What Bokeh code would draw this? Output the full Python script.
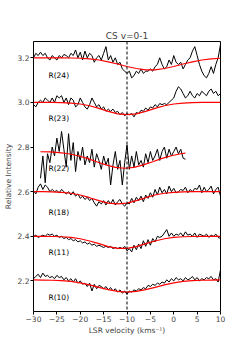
from bokeh.plotting import figure
from bokeh.models import Span, FixedTicker, ColumnDataSource
from bokeh.core.properties import value
from bokeh.embed import file_html
from bokeh.resources import INLINE

# ---- data ----
velocity = [-30 + 0.5 * i for i in range(81)]

r24 = [3.20, 3.22, 3.21, 3.225, 3.21, 3.22, 3.20, 3.19, 3.21, 3.20,
       3.19, 3.21, 3.20, 3.215, 3.21, 3.20, 3.22, 3.21, 3.235, 3.20,
       3.225, 3.19, 3.23, 3.20, 3.22, 3.21, 3.18, 3.20, 3.21, 3.19,
       3.22, 3.25, 3.19, 3.21, 3.18, 3.20, 3.17, 3.18, 3.15, 3.14,
       3.13, 3.14, 3.11, 3.12, 3.14, 3.13, 3.15, 3.13, 3.14, 3.14,
       3.15, 3.14, 3.16, 3.17, 3.20, 3.17, 3.15, 3.16, 3.19, 3.17,
       3.21, 3.18, 3.17, 3.18, 3.15, 3.17, 3.19, 3.20, 3.23, 3.25,
       3.21, 3.17, 3.14, 3.12, 3.11, 3.13, 3.16, 3.13, 3.17, 3.20, 3.26]

r23 = [2.99, 2.98, 3.00, 3.01, 3.00, 3.02, 3.01, 3.00, 3.02, 3.00,
       3.03, 3.02, 3.03, 3.00, 3.02, 2.99, 3.02, 3.01, 2.98, 2.99,
       3.02, 3.00, 2.98, 2.97, 2.99, 3.02, 3.00, 2.98, 2.99, 2.97,
       2.98, 2.96, 2.97, 2.96, 2.97, 2.955, 2.96, 2.945, 2.955, 2.94,
       2.95, 2.945, 2.95, 2.935, 2.955, 2.95, 2.965, 2.96, 2.975, 2.965,
       2.98, 2.975, 2.99, 2.98, 2.995, 2.99, 2.995, 2.99, 3.00, 3.01,
       3.02, 3.05, 3.07, 3.06, 3.04, 3.02, 3.03, 3.05, 3.03, 3.02,
       3.04, 3.03, 3.05, 3.04, 3.03, 3.05, 3.06, 3.04, 3.05, 3.03, 3.04]

velocity_r22 = [-28.5 + 0.5 * i for i in range(63)]
r22 = [2.66, 2.76, 2.64, 2.77, 2.73, 2.80, 2.76, 2.84, 2.78, 2.87,
       2.79, 2.71, 2.86, 2.74, 2.82, 2.69, 2.78, 2.74, 2.80, 2.72,
       2.76, 2.73, 2.79, 2.71, 2.77, 2.74, 2.70, 2.76, 2.72, 2.75,
       2.63, 2.72, 2.78, 2.70, 2.74, 2.63, 2.73, 2.81, 2.70, 2.76,
       2.71, 2.78, 2.72, 2.74, 2.71, 2.77, 2.73, 2.78, 2.74, 2.76,
       2.79, 2.74, 2.78, 2.80, 2.75, 2.79, 2.76, 2.78, 2.80, 2.77,
       2.79, 2.75, 2.745]

r18 = [2.605, 2.59, 2.62, 2.635, 2.61, 2.63, 2.62, 2.60, 2.61, 2.60,
       2.605, 2.595, 2.61, 2.60, 2.59, 2.60, 2.585, 2.60, 2.58, 2.59,
       2.57, 2.58, 2.565, 2.575, 2.56, 2.57, 2.55, 2.535, 2.555, 2.545,
       2.56, 2.54, 2.56, 2.545, 2.565, 2.54, 2.555, 2.565, 2.545, 2.535,
       2.55, 2.545, 2.57, 2.55, 2.575, 2.56, 2.58, 2.555, 2.585, 2.57,
       2.595, 2.575, 2.61, 2.585, 2.62, 2.595, 2.61, 2.59, 2.625, 2.60,
       2.615, 2.595, 2.60, 2.61, 2.605, 2.62, 2.595, 2.61, 2.60, 2.615,
       2.61, 2.63, 2.595, 2.62, 2.60, 2.61, 2.625, 2.59, 2.61, 2.62, 2.58]

r11 = [2.40, 2.405, 2.395, 2.40, 2.405, 2.40, 2.41, 2.405, 2.41, 2.40,
       2.405, 2.395, 2.40, 2.39, 2.395, 2.385, 2.39, 2.38, 2.385, 2.375,
       2.38, 2.37, 2.375, 2.365, 2.37, 2.36, 2.365, 2.355, 2.36, 2.355,
       2.35, 2.355, 2.35, 2.355, 2.345, 2.35, 2.345, 2.35, 2.345, 2.355,
       2.335, 2.345, 2.33, 2.36, 2.34, 2.365, 2.345, 2.38, 2.355, 2.385,
       2.36, 2.39, 2.375, 2.40, 2.395, 2.40, 2.415, 2.43, 2.40, 2.415,
       2.40, 2.41, 2.405, 2.415, 2.40, 2.42, 2.405, 2.41, 2.40, 2.415,
       2.395, 2.41, 2.405, 2.40, 2.41, 2.395, 2.405, 2.40, 2.41, 2.395, 2.39]

r10 = [2.21, 2.22, 2.23, 2.215, 2.235, 2.22, 2.225, 2.215, 2.22, 2.21,
       2.225, 2.215, 2.22, 2.205, 2.215, 2.20, 2.21, 2.195, 2.21, 2.19,
       2.20, 2.185, 2.19, 2.175, 2.19, 2.155, 2.185, 2.165, 2.18, 2.175,
       2.165, 2.175, 2.16, 2.17, 2.155, 2.165, 2.15, 2.16, 2.145, 2.155,
       2.14, 2.155, 2.15, 2.16, 2.155, 2.165, 2.16, 2.17, 2.165, 2.18,
       2.175, 2.185, 2.18, 2.19, 2.185, 2.195, 2.19, 2.205, 2.195, 2.21,
       2.20, 2.215, 2.205, 2.21, 2.20, 2.215, 2.205, 2.21, 2.22, 2.205,
       2.215, 2.20, 2.21, 2.205, 2.215, 2.21, 2.22, 2.205, 2.21, 2.195, 2.25]

# fitted profiles (red)
fit_velocity = [-30, -28, -26, -24, -22, -20, -18, -16, -14, -12, -10,
                -8, -6, -4, -2, 0, 2, 4, 6, 8, 10]
fit_r24 = [3.200, 3.200, 3.200, 3.200, 3.199, 3.198, 3.195, 3.190, 3.182, 3.172, 3.161,
           3.152, 3.146, 3.146, 3.152, 3.161, 3.172, 3.182, 3.190, 3.195, 3.198]
fit_r23 = [3.000, 3.000, 3.000, 2.999, 2.997, 2.993, 2.985, 2.973, 2.960, 2.949, 2.945,
           2.949, 2.960, 2.973, 2.985, 2.993, 2.997, 2.999, 3.000, 3.000, 3.000]
fit_r18 = [2.600, 2.600, 2.599, 2.597, 2.593, 2.585, 2.573, 2.560, 2.549, 2.545, 2.549,
           2.560, 2.573, 2.585, 2.593, 2.597, 2.599, 2.600, 2.600, 2.600, 2.600]
fit_r11 = [2.400, 2.400, 2.399, 2.398, 2.395, 2.389, 2.379, 2.367, 2.354, 2.346, 2.346,
           2.354, 2.367, 2.379, 2.389, 2.395, 2.398, 2.399, 2.400, 2.400, 2.400]
fit_r10 = [2.205, 2.204, 2.203, 2.201, 2.198, 2.191, 2.182, 2.171, 2.161, 2.153, 2.150,
           2.153, 2.161, 2.171, 2.182, 2.191, 2.198, 2.201, 2.203, 2.204, 2.205]
fit_velocity_r22 = [-28.5, -26.5, -24.5, -22.5, -20.5, -18.5, -16.5, -14.5, -12.5, -10.5,
                    -8.5, -6.5, -4.5, -2.5, -0.5, 1.5, 2.5]
fit_r22 = [2.779, 2.778, 2.775, 2.770, 2.761, 2.749, 2.734, 2.720, 2.709, 2.705,
           2.709, 2.720, 2.734, 2.749, 2.761, 2.770, 2.773]

line_names = ["R(24)", "R(23)", "R(22)", "R(18)", "R(11)", "R(10)"]
line_name_x = [-26.8] * 6
line_name_y = [3.121, 2.93, 2.703, 2.507, 2.326, 2.125]

system_velocity = -10
x_ticks = [-30, -25, -20, -15, -10, -5, 0, 5, 10]
y_ticks = [2.2, 2.4, 2.6, 2.8, 3.0, 3.2]

FONT = "DejaVu Sans"

p = figure(width=245, height=350, output_backend="svg", toolbar_location=None,
           x_range=(-30, 10), y_range=(2.063, 3.273),
           min_border_left=30, min_border_right=25, min_border_top=41, min_border_bottom=39)
p.title.text = "CS v=0-1"
p.title.align = "center"
p.title.text_font = FONT
p.title.text_font_size = "9px"
p.title.text_font_style = "normal"
p.title.standoff = 1
p.grid.visible = False
p.outline_line_color = "black"
p.outline_line_width = 1
p.background_fill_color = "white"
p.border_fill_color = "white"

series = [(velocity, r24), (velocity, r23), (velocity_r22, r22),
          (velocity, r18), (velocity, r11), (velocity, r10)]
fits = [(fit_velocity, fit_r24), (fit_velocity, fit_r23), (fit_velocity_r22, fit_r22),
        (fit_velocity, fit_r18), (fit_velocity, fit_r11), (fit_velocity, fit_r10)]
for (xs, ys) in series:
    p.line(xs, ys, line_color="black", line_width=1)
for (xs, ys) in fits:
    p.line(xs, ys, line_color="red", line_width=1.2)

p.add_layout(Span(location=system_velocity, dimension="height", line_color="black",
                  line_dash="3 2", line_width=1))

src = ColumnDataSource(dict(x=line_name_x, y=line_name_y, t=line_names))
p.text(x="x", y="y", text="t", source=src, text_font=value(FONT), text_font_size="7.5px",
       text_baseline="middle", text_align="left", text_color="black")

for ax in (p.xaxis[0], p.yaxis[0]):
    ax.major_label_text_font = FONT
    ax.major_label_text_font_size = "7.5px"
    ax.axis_label_text_font = FONT
    ax.axis_label_text_font_size = "7.5px"
    ax.axis_label_text_font_style = "normal"
    ax.minor_tick_line_color = None
    ax.major_tick_in = 0
    ax.major_tick_out = 3
    ax.axis_line_color = None
    ax.major_label_standoff = 1

p.xaxis.ticker = FixedTicker(ticks=x_ticks)
p.xaxis.major_label_overrides = {t: (("\u2212" + str(-t)) if t < 0 else str(t)) for t in x_ticks}
p.xaxis.axis_label = "LSR velocity (kms\u207b\u00b9)"
p.xaxis.axis_label_standoff = 1
p.yaxis.ticker = FixedTicker(ticks=y_ticks)
p.yaxis.major_label_overrides = {t: f"{t:.1f}" for t in y_ticks}
p.yaxis.axis_label = "Relative Intensity"
p.yaxis.axis_label_standoff = 2

open("out.html", "w").write(file_html(p, INLINE))
